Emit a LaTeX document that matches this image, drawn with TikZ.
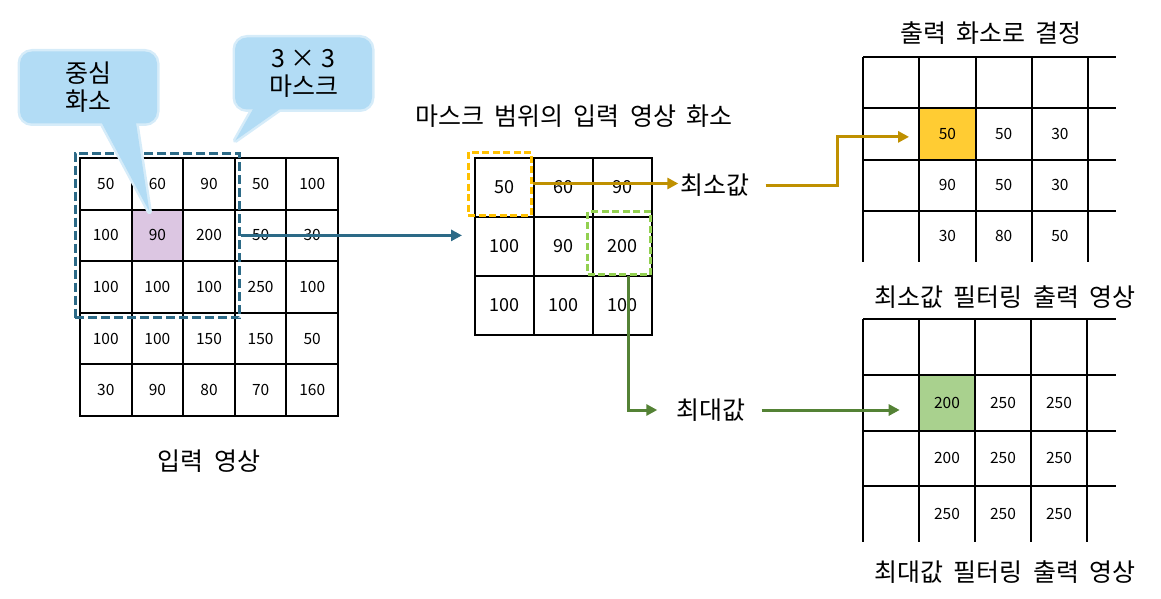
\documentclass[tikz,border=0pt]{standalone}
\usepackage{fontspec}
\setmainfont{Noto Sans CJK KR}
\newfontfamily\krwide[WordSpace=1.8]{Noto Sans CJK KR}
\usetikzlibrary{positioning,arrows.meta,calc,fit,backgrounds}
\definecolor{MaskTeal}{RGB}{44,106,135}
\definecolor{CentrePurple}{RGB}{220,198,226}
\definecolor{BubbleBlue}{RGB}{178,220,245}
\definecolor{BubbleGlow}{RGB}{214,236,249}
\definecolor{MinBox}{RGB}{255,192,0}
\definecolor{MinLine}{RGB}{191,144,0}
\definecolor{MinCell}{RGB}{255,204,51}
\definecolor{MaxBox}{RGB}{146,208,80}
\definecolor{MaxLine}{RGB}{84,130,53}
\definecolor{MaxCell}{RGB}{169,209,142}

\begin{document}
\begin{tikzpicture}[x=1pt, y=-1pt,
    cell/.style={draw, line width=2pt, minimum size=51.6pt, inner sep=0pt,
        font=\fontsize{15.5}{18}\selectfont},
    midcell/.style={cell, minimum size=59pt, font=\fontsize{18}{21}\selectfont},
    outval/.style={inner sep=0pt, minimum width=56.2pt, minimum height=#1,
        font=\fontsize{15.5}{18}\selectfont},
    gridline/.style={line width=2pt},
    heading/.style={font=\krwide\fontsize{25}{28}\selectfont},
    pick/.style={font=\krwide\fontsize{25}{28}\selectfont, inner sep=2pt},
    bubble/.style={rectangle, rounded corners=12pt, fill=BubbleBlue, minimum width=137pt,
        minimum height=72pt, align=center, inner sep=0pt, font=\fontsize{25}{28}\selectfont},
    bubbleedge/.style={rectangle, rounded corners=12pt, draw=BubbleGlow, line width=5pt,
        minimum width=137pt, minimum height=72pt, inner sep=0pt},
    pointer/.style={fill=BubbleBlue, preaction={draw=BubbleGlow, line width=5pt, line join=round}},
    maskbox/.style={draw=MaskTeal, line width=3pt, dash pattern=on 9pt off 4pt, inner sep=4pt},
    minbox/.style={draw=MinBox, line width=3pt, dash pattern=on 7pt off 3.5pt, inner sep=1pt},
    maxbox/.style={draw=MaxBox, line width=3pt, dash pattern=on 7pt off 3.5pt, inner sep=1pt},
    arr/.style={line width=3pt, -{Triangle[length=11pt, width=11pt]}},
]
\useasboundingbox (0,0) rectangle (1161,599);

% input image
\foreach \vals [count=\r] in {{50,60,90,50,100},{100,90,200,50,30},{100,100,100,250,100},{100,100,150,150,50},{30,90,80,70,160}}
    \foreach \v [count=\c] in \vals
        \node[cell] (in-\r-\c) at ({80+51.6*(\c-0.5)},{158+51.6*(\r-0.5)}) {\v};
\node[maskbox, fit=(in-1-1)(in-3-3)] (mask) {};
\node[heading, below=29pt of in-5-3] (in-cap) {입력 영상};

% pixels under the mask
\foreach \vals [count=\r] in {{50,60,90},{100,90,200},{100,100,100}}
    \foreach \v [count=\c] in \vals
        \node[midcell] (mid-\r-\c) at ({475+59*(\c-0.5)},{158+59*(\r-0.5)}) {\v};
\node[heading] (mid-cap) at (574,116) {마스크 범위의 입력 영상 화소};
\node[minbox, fit=(mid-1-1), xshift=-5pt, yshift=4pt] (ybox) {};
\node[maxbox, fit=(mid-2-3), xshift=-3.5pt, yshift=3.5pt] (gbox) {};
\node[pick] (min) at (715,185) {최소값};
\node[pick] (max) at (711,410) {최대값};

% min filter output
\foreach \k in {0,...,3}
    \draw[gridline] (863,{57+51.25*\k}) -- (1116,{57+51.25*\k});
\foreach \k in {0,...,4}
    \draw[gridline] ({863+56.25*\k},57) -- ({863+56.25*\k},262);
\foreach \vals [count=\r] in {{50,50,30},{90,50,30},{30,80,50}}
    \foreach \v [count=\c] in \vals
        \node[outval=51.25pt] (omin-\r-\c) at ({863+56.25*(\c+0.5)},{57+51.25*(\r+0.5)}) {\v};
\node[heading] (out-cap) at (991,33) {출력 화소로 결정};
\node[heading] (omin-cap) at (1005,297) {최소값 필터링 출력 영상};

% max filter output
\foreach \k in {0,...,3}
    \draw[gridline] (863,{319+55.75*\k}) -- (1116,{319+55.75*\k});
\foreach \k in {0,...,4}
    \draw[gridline] ({863+56*\k},319) -- ({863+56*\k},542);
\foreach \vals [count=\r] in {{200,250,250},{200,250,250},{250,250,250}}
    \foreach \v [count=\c] in \vals
        \node[outval=55.75pt] (omax-\r-\c) at ({863+56*(\c+0.5)},{319+55.75*(\r+0.5)}) {\v};
\node[heading] (omax-cap) at (1005,572) {최대값 필터링 출력 영상};

\begin{scope}[on background layer]
    \fill[CentrePurple] (in-2-2.south west) rectangle (in-2-2.north east);
    \fill[MinCell] (omin-1-1.south west) rectangle (omin-1-1.north east);
    \fill[MaxCell] (omax-1-1.south west) rectangle (omax-1-1.north east);
\end{scope}

\draw[arr, MaskTeal, shorten >=12pt] (mask.east |- in-2-3) -- (in-2-3 -| mid-2-1.west);
\draw[arr, MinLine] (ybox.east) -- (ybox.east -| min.west);
\draw[arr, MinLine, shorten <=14pt, shorten >=10pt] (min.east) -- ++(86,0) |- ([yshift=-3pt]omin-1-1.west);
\draw[arr, MaxLine, shorten >=17pt] ([xshift=9pt]gbox.south) |- (max.west);
\draw[arr, MaxLine, shorten <=14pt, shorten >=19pt] (max.east) -- (max.east -| omax-1-1.west);

% callouts
\node[bubbleedge] (cen) at (88.5,87.5) {};
\coordinate (cen-tip) at ($(in-2-2.north)+(-8,3)$);
\path[pointer] ($(cen.south)+(9.5,-10)$) -- (cen-tip) -- ($(cen.south)+(46.5,-10)$) -- cycle;
\node[bubble] (cen-txt) at (cen) {중심\\화소};

\node[bubbleedge] (msk) at (303.5,73.5) {};
\coordinate (msk-tip) at ($(mask.north east)+(-6,-11)$);
\path[pointer] ($(msk.south)+(-46.5,-10)$) -- (msk-tip) -- ($(msk.south)+(-13.5,-10)$) -- cycle;
\node[bubble] (msk-txt) at (msk) {3 × 3\\마스크};
\end{tikzpicture}
\end{document}
